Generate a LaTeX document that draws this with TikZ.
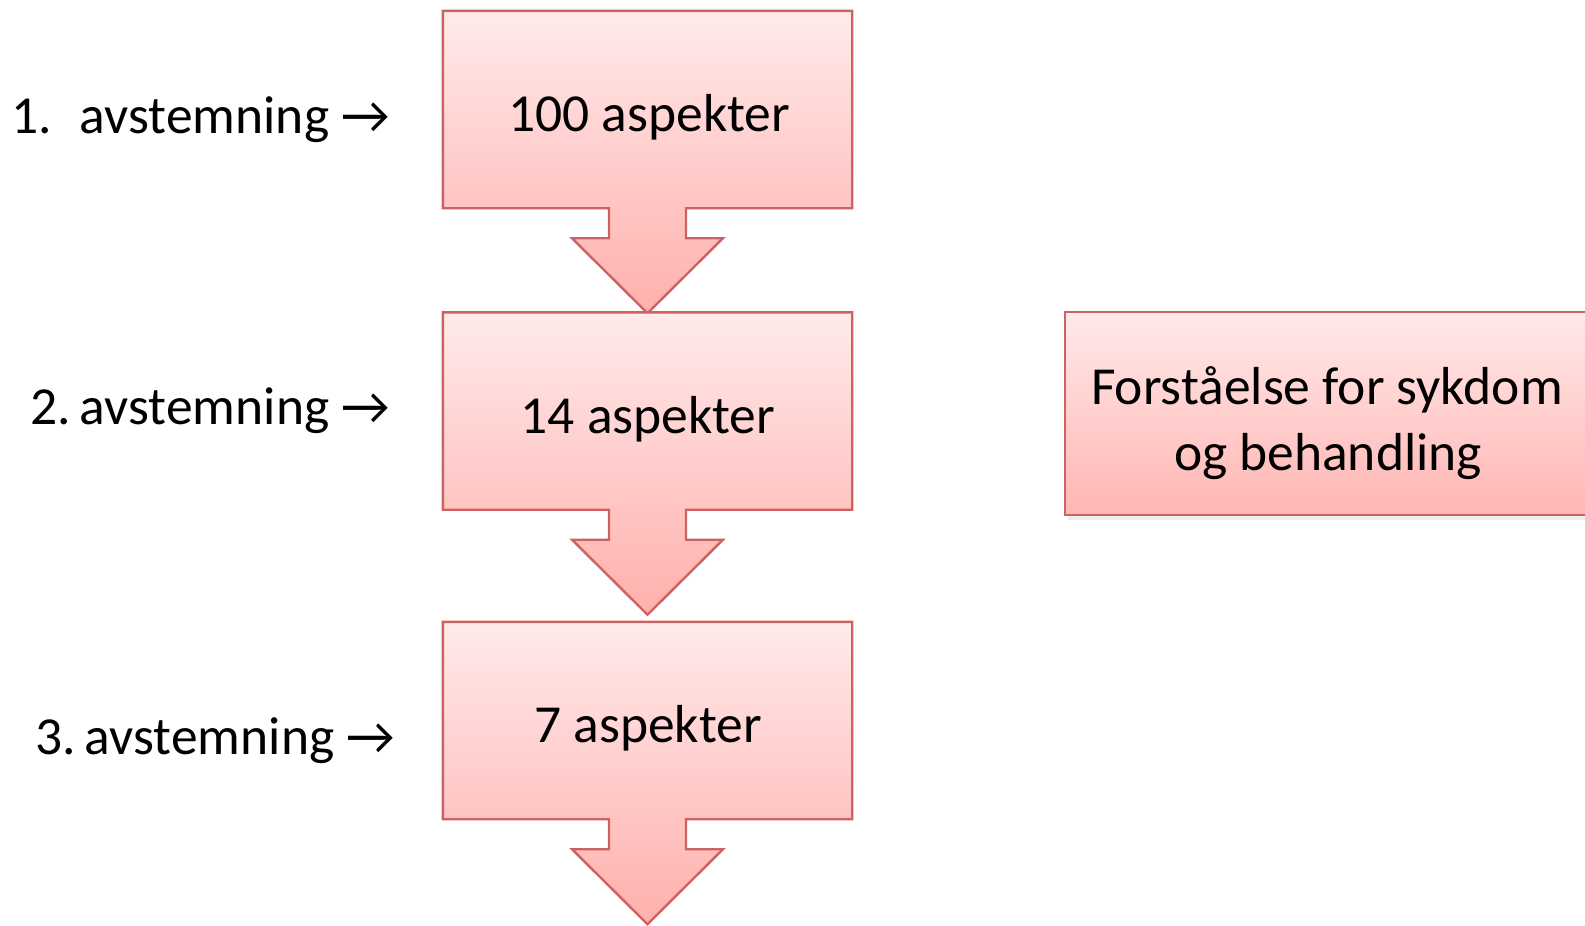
\documentclass[tikz,border=0pt]{standalone}
\usepackage{fontspec}
\setmainfont{Carlito}
\usetikzlibrary{calc}
\definecolor{bordercol}{RGB}{206,98,96}
\definecolor{toppink}{RGB}{255,234,234}
\definecolor{botpink}{RGB}{255,176,173}
\definecolor{rtop}{RGB}{255,233,233}
\definecolor{rbot}{RGB}{255,182,179}
\begin{document}
\begin{tikzpicture}[x=1pt,y=-1pt,
  boxnode/.style={rectangle, minimum width=409pt, minimum height=197pt, inner sep=0pt},
  bigfont/.style={font=\fontsize{53.5}{64}\selectfont, inner sep=0pt},
  lbl/.style={bigfont, anchor=base east},
  txt/.style={bigfont, anchor=base},
  flowshape/.style={draw=bordercol, line width=2.4pt, line join=miter, top color=toppink, bottom color=botpink},
  shadowfill/.style={fill=black, draw=none}]
\useasboundingbox (0,0) rectangle (1585,926);
\clip (0,0) rectangle (1585,926);
\fill[white] (0,0) rectangle (1585,926);

% box anchors (invisible nodes)
\node[boxnode] (b1) at (647.5,109.5) {};
\node[boxnode] (b2) at (647.5,411) {};
\node[boxnode] (b3) at (647.5,720.5) {};

% shadows and shapes
\foreach \n in {b1,b2,b3}{
  \foreach \s/\o in {4/0.06,2.5/0.08}{
    \fill[shadowfill, opacity=\o, shift={(\s*0.6,\s)}]
      (\n.north west) -- (\n.north east) -- (\n.south east)
      -- ($(\n.south)+(38.5,0)$) -- ($(\n.south)+(38.5,30)$) -- ($(\n.south)+(75.5,30)$)
      -- ($(\n.south)+(0,105)$)
      -- ($(\n.south)+(-75.5,30)$) -- ($(\n.south)+(-38.5,30)$) -- ($(\n.south)+(-38.5,0)$)
      -- (\n.south west) -- cycle;
  }
  \shade[flowshape]
    (\n.north west) -- (\n.north east) -- (\n.south east)
    -- ($(\n.south)+(38.5,0)$) -- ($(\n.south)+(38.5,30)$) -- ($(\n.south)+(75.5,30)$)
    -- ($(\n.south)+(0,105)$)
    -- ($(\n.south)+(-75.5,30)$) -- ($(\n.south)+(-38.5,30)$) -- ($(\n.south)+(-38.5,0)$)
    -- (\n.south west) -- cycle;
}

% box texts
\node[txt] (t1) at (649,131) {100 aspekter};
\node[txt] (t2) at (648,433) {14 aspekter};
\node[txt] (t3) at (648,742) {7 aspekter};

% left labels
\node[lbl] (l1) at (390,133) {1.\hspace{28pt}avstemning →};
\node[lbl] (l2) at (390,424) {2.\hspace{9pt}avstemning →};
\node[lbl] (l3) at (395,754) {3.\hspace{9pt}avstemning →};

% right box
\fill[black, opacity=0.07] (1068,317) rectangle (1620,520);
\node[rectangle, draw=bordercol, line width=2.4pt, top color=rtop, bottom color=rbot,
      minimum width=536pt, minimum height=203pt, inner sep=0pt] (r) at (1333,413.5) {};
\node[txt] (rt1) at (1327,404) {Forståelse for sykdom};
\node[txt] (rt2) at (1328,470) {og behandling};
\end{tikzpicture}
\end{document}
